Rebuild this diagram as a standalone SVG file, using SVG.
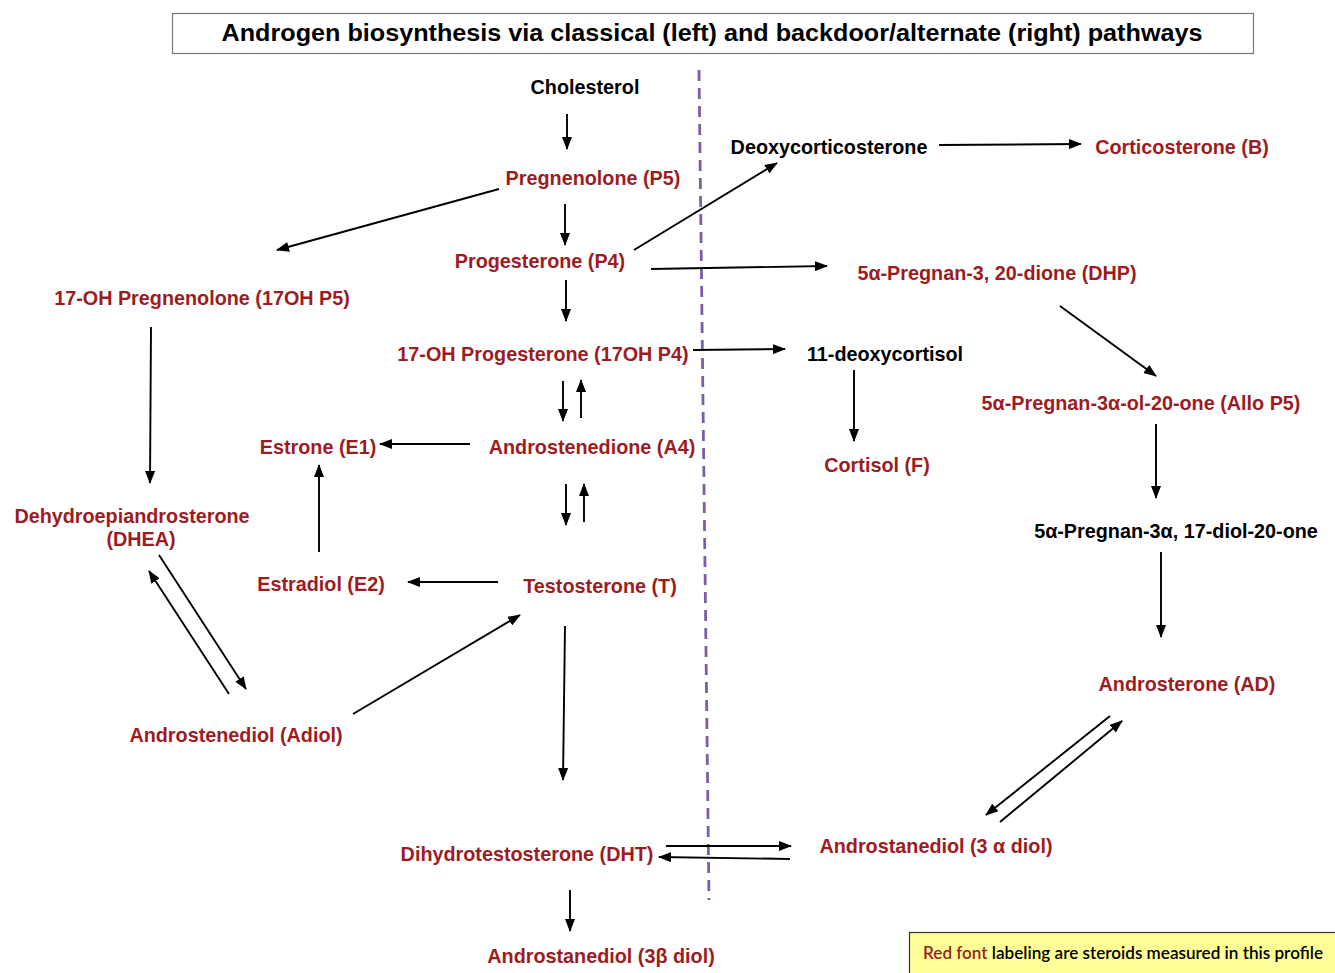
<svg xmlns="http://www.w3.org/2000/svg" width="1335" height="973" viewBox="0 0 1335 973">
<style>
.t{font-family:"Liberation Sans",Arial,sans-serif;font-weight:bold;font-size:19.8px;text-anchor:middle}
.r{fill:#9c1c1f}
.k{fill:#000}
.c line{stroke:#000;stroke-width:1.9;marker-end:url(#ah)}
</style>
<defs>
<marker id="ah" viewBox="0 0 13 10" refX="12" refY="5" markerWidth="13" markerHeight="10" markerUnits="userSpaceOnUse" orient="auto">
<path d="M0,0 L13,5 L0,10 Z" fill="#000"/>
</marker>
</defs>
<rect width="1335" height="973" fill="#fff"/>
<g id="title">
<rect x="172.5" y="13.5" width="1081" height="40" fill="#fff" stroke="#777" stroke-width="1.2"/>
<text x="712" y="41" font-family="Liberation Sans,Arial,sans-serif" font-weight="bold" font-size="23" text-anchor="middle" textLength="981" lengthAdjust="spacingAndGlyphs">Androgen biosynthesis via classical (left) and backdoor/alternate (right) pathways</text>
</g>
<line id="divider" x1="699" y1="70" x2="709" y2="900" stroke="#7b5ea7" stroke-width="2.8" stroke-dasharray="11,7"/>
<g class="c" id="connectors">
<line x1="567" y1="114" x2="567" y2="149"/>
<line x1="565" y1="204" x2="565" y2="245"/>
<line x1="499" y1="189" x2="277" y2="250"/>
<line x1="634" y1="250" x2="777" y2="163"/>
<line x1="651" y1="269" x2="827" y2="266"/>
<line x1="939" y1="145" x2="1081" y2="144"/>
<line x1="566" y1="280" x2="566" y2="321"/>
<line x1="693" y1="350" x2="785" y2="349"/>
<line x1="854" y1="370" x2="854" y2="441"/>
<line x1="1060" y1="306" x2="1156" y2="376"/>
<line x1="1156" y1="424" x2="1156" y2="498"/>
<line x1="1161" y1="552" x2="1161" y2="637"/>
<line x1="563" y1="381" x2="563" y2="421"/>
<line x1="581" y1="418" x2="581" y2="380"/>
<line x1="470" y1="444" x2="380" y2="444"/>
<line x1="566" y1="484" x2="566" y2="525"/>
<line x1="584" y1="522" x2="584" y2="484"/>
<line x1="319" y1="552" x2="319" y2="465"/>
<line x1="498" y1="582" x2="408" y2="582"/>
<line x1="151" y1="327" x2="150" y2="483"/>
<line x1="159" y1="555" x2="246" y2="689"/>
<line x1="229" y1="694" x2="149" y2="571"/>
<line x1="353" y1="714" x2="520" y2="615"/>
<line x1="565" y1="626" x2="563" y2="780"/>
<line x1="570" y1="890" x2="570" y2="931"/>
<line x1="666" y1="846" x2="791" y2="846"/>
<line x1="790" y1="859" x2="659" y2="857"/>
<line x1="1110" y1="716" x2="986" y2="815"/>
<line x1="1000" y1="822" x2="1122" y2="721"/>
</g>
<g id="cholesterol"><text class="t k" x="585" y="94">Cholesterol</text></g>
<g id="pregnenolone"><text class="t r" x="593" y="185">Pregnenolone (P5)</text></g>
<g id="deoxycorticosterone"><text class="t k" x="829" y="154">Deoxycorticosterone</text></g>
<g id="corticosterone"><text class="t r" x="1182" y="154">Corticosterone (B)</text></g>
<g id="progesterone"><text class="t r" x="540" y="268">Progesterone (P4)</text></g>
<g id="dhp"><text class="t r" x="997" y="280">5α-Pregnan-3, 20-dione (DHP)</text></g>
<g id="oh-preg"><text class="t r" x="202" y="305">17-OH Pregnenolone (17OH P5)</text></g>
<g id="oh-prog"><text class="t r" x="543" y="361">17-OH Progesterone (17OH P4)</text></g>
<g id="deoxycortisol"><text class="t k" x="885" y="361">11-deoxycortisol</text></g>
<g id="allop5"><text class="t r" x="1141" y="410">5α-Pregnan-3α-ol-20-one (Allo P5)</text></g>
<g id="estrone"><text class="t r" x="318" y="454">Estrone (E1)</text></g>
<g id="androstenedione"><text class="t r" x="592" y="454">Androstenedione (A4)</text></g>
<g id="cortisol"><text class="t r" x="877" y="472">Cortisol (F)</text></g>
<g id="dhea"><text class="t r" x="132" y="523">Dehydroepiandrosterone</text><text class="t r" x="141" y="546">(DHEA)</text></g>
<g id="diol17"><text class="t k" x="1176" y="538">5α-Pregnan-3α, 17-diol-20-one</text></g>
<g id="estradiol"><text class="t r" x="321" y="591">Estradiol (E2)</text></g>
<g id="testosterone"><text class="t r" x="600" y="593">Testosterone (T)</text></g>
<g id="androsterone"><text class="t r" x="1187" y="691">Androsterone (AD)</text></g>
<g id="adiol"><text class="t r" x="236" y="742">Androstenediol (Adiol)</text></g>
<g id="dht"><text class="t r" x="527" y="861">Dihydrotestosterone (DHT)</text></g>
<g id="diol3a"><text class="t r" x="936" y="853">Androstanediol (3 α diol)</text></g>
<g id="diol3b"><text class="t r" x="601" y="963">Androstanediol (3β diol)</text></g>
<g id="legend">
<rect x="909.5" y="932.5" width="430" height="45" fill="#ffff99" stroke="#333" stroke-width="1.2"/>
<text x="923" y="959" font-family="Lato,'Open Sans',sans-serif" font-weight="600" font-size="17.5" textLength="400" lengthAdjust="spacingAndGlyphs"><tspan fill="#9c1c1f">Red font</tspan><tspan fill="#000"> labeling are steroids measured in this profile</tspan></text>
</g>
</svg>
